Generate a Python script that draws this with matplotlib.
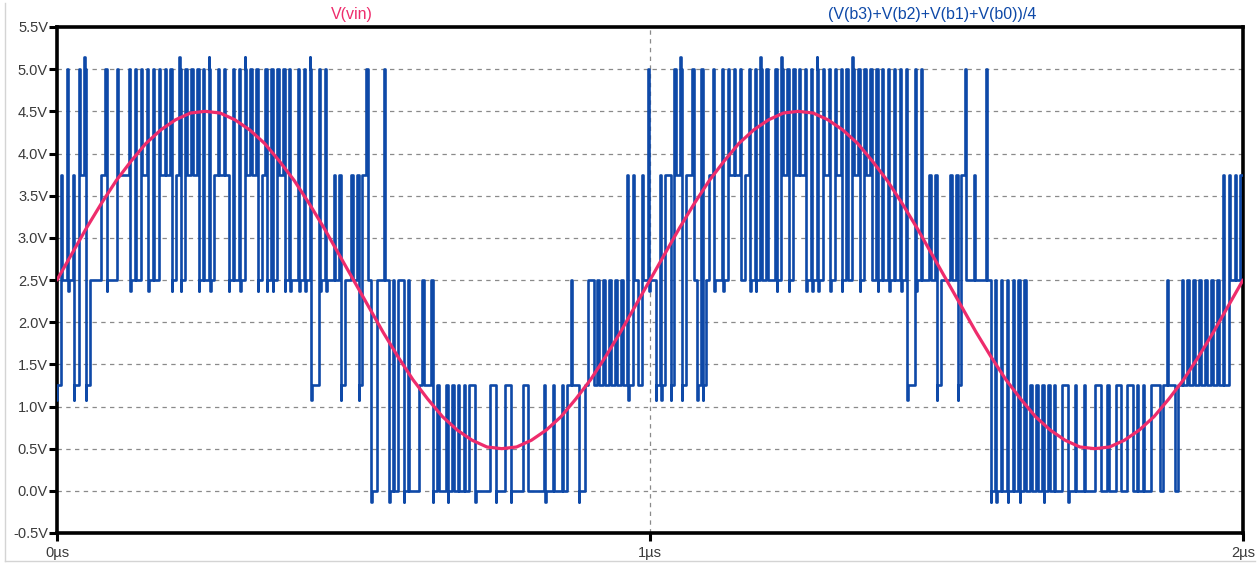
import matplotlib
matplotlib.use("Agg")
import matplotlib.pyplot as plt
from matplotlib.lines import Line2D
import numpy as np

# ---------------- data ----------------
# quantised output levels of (V(b3)+V(b2)+V(b1)+V(b0))/4
LEVELS = [0.0, 1.25, 2.5, 3.75, 5.0]
# letters = that level entered with a short over/undershoot spike
GLITCH = {"a": (0, -0.13), "b": (1, 1.08), "c": (2, 2.37), "e": (4, 5.15)}
STEP_NS = 5.0          # one character = one 5 ns step, 20 steps per 100 ns segment
code_segments = [
    "b324c3b43eb222234c22",  # 0.0 - 0.1 us
    "43334c42434c4243434c",  # 0.1 - 0.2
    "3ec43434c42ec34343c4",  # 0.2 - 0.3
    "24ce3434c34c4c434c4c",  # 0.3 - 0.4
    "24c4ceb14c4c2323b223",  # 0.4 - 0.5
    "23b342a02242a2022a20",  # 0.5 - 0.6
    "0012112a1001a1010101",  # 0.6 - 0.7
    "1a000011a0011a000110",  # 0.7 - 0.8
    "00001a0100101211a012",  # 0.8 - 0.9
    "2121212121213b321324",  # 0.9 - 1.0
    "c2b3b33b43eb3342b4b2",  # 1.0 - 1.1
    "34c24c43434234c4ce24",  # 1.1 - 1.2
    "224ce34c43434c4cec43",  # 1.2 - 1.3
    "4c434c42e34c43424c42",  # 1.3 - 1.4
    "4c424c4b14c422323b22",  # 1.4 - 1.5
    "2323b3422322242a2a20",  # 1.5 - 1.6
    "2a202a2010101a101001",  # 1.6 - 1.7
    "1a010010001100100110",  # 1.7 - 1.8
    "01101010011101211012",  # 1.8 - 1.9
    "12121212121213132323",  # 1.9 - 2.0
]

# V(vin) read every 25 ns
VIN_STEP_NS = 25.0
vin_values = [
    2.50, 2.81, 3.12, 3.41, 3.68, 3.91, 4.12, 4.28, 4.40, 4.48,
    4.50, 4.48, 4.40, 4.28, 4.12, 3.91, 3.68, 3.41, 3.12, 2.81,
    2.50, 2.19, 1.88, 1.59, 1.32, 1.09, 0.88, 0.72, 0.60, 0.52,
    0.50, 0.52, 0.60, 0.72, 0.88, 1.09, 1.32, 1.59, 1.88, 2.19,
    2.50, 2.81, 3.12, 3.41, 3.68, 3.91, 4.12, 4.28, 4.40, 4.48,
    4.50, 4.48, 4.40, 4.28, 4.12, 3.91, 3.68, 3.41, 3.12, 2.81,
    2.50, 2.19, 1.88, 1.59, 1.32, 1.09, 0.88, 0.72, 0.60, 0.52,
    0.50, 0.52, 0.60, 0.72, 0.88, 1.09, 1.32, 1.59, 1.88, 2.19,
    2.50,
]

y_ticks = [-0.5, 0.0, 0.5, 1.0, 1.5, 2.0, 2.5, 3.0, 3.5, 4.0, 4.5, 5.0, 5.5]
y_tick_labels = ["-0.5V", "0.0V", "0.5V", "1.0V", "1.5V", "2.0V", "2.5V",
                 "3.0V", "3.5V", "4.0V", "4.5V", "5.0V", "5.5V"]
x_ticks = [0.0, 1.0, 2.0]
x_tick_labels = ["0µs", "1µs", "2µs"]

vin_name = "V(vin)"
out_name = "(V(b3)+V(b2)+V(b1)+V(b0))/4"

# ---------------- style ----------------
BLUE = "#0e49a8"
PINK = "#ee2c6c"
TXT = "#3a3a3a"
GLITCH_NS = 0.8      # drawn width of an over/undershoot spike
PULSE_TRIM_NS = 1.3  # single-step pulses are drawn a little narrower (as in the scope trace)

# ---------------- build series ----------------
codes = "".join(code_segments)
lvl_idx = [GLITCH[c][0] if c in GLITCH else int(c) for c in codes]
n = len(codes)


def is_peak(k):
    if k <= 0 or k >= n - 1:
        return False
    return lvl_idx[k] > lvl_idx[k - 1] and lvl_idx[k] > lvl_idx[k + 1]


t_out, v_out = [], []
for k, c in enumerate(codes):
    t0 = k * STEP_NS
    if is_peak(k):
        t0 += PULSE_TRIM_NS
    if k > 0 and is_peak(k - 1):
        t0 -= PULSE_TRIM_NS
    if c in GLITCH:
        t_out += [t0, t0 + GLITCH_NS]
        v_out += [GLITCH[c][1], LEVELS[lvl_idx[k]]]
    else:
        t_out.append(t0)
        v_out.append(LEVELS[lvl_idx[k]])
t_out.append(n * STEP_NS)
v_out.append(v_out[-1])
t_out = np.array(t_out) / 1000.0
t_vin = np.arange(len(vin_values)) * VIN_STEP_NS / 1000.0

# ---------------- figure ----------------
W, H = 1258, 567
fig = plt.figure(figsize=(W / 100, H / 100), dpi=100)
fig.patch.set_facecolor("white")
L, R, T, B = 57, 1243, 27, 533
ax = fig.add_axes([L / W, 1 - B / H, (R - L) / W, (B - T) / H])

ax.set_xlim(0, 2)
ax.set_ylim(-0.5, 5.5)

# grid
for y in y_ticks[1:-1]:
    ax.axhline(y, color="#8a8a8a", lw=0.9, ls=(0, (3.5, 3.5)), zorder=1)
ax.axvline(1.0, color="#8a8a8a", lw=0.9, ls=(0, (3.5, 3.5)), zorder=1)

ax.plot(t_out, v_out, drawstyle="steps-post", color=BLUE, lw=1.9,
        solid_joinstyle="round", solid_capstyle="round", zorder=3)
ax.plot(t_vin, vin_values, color=PINK, lw=2.3, zorder=4,
        solid_capstyle="round")

for s in ax.spines.values():
    s.set_linewidth(2.6)
    s.set_color("black")

ax.set_yticks(y_ticks)
ax.set_yticklabels(y_tick_labels)
ax.set_xticks(x_ticks)
ax.set_xticklabels(x_tick_labels)
ax.tick_params(axis="both", direction="out", length=6, width=2.2, color="black",
               labelsize=10.5, labelcolor=TXT)
ax.tick_params(axis="y", pad=0.5)
ax.tick_params(axis="x", pad=3)
for lab in ax.get_xticklabels() + ax.get_yticklabels():
    lab.set_fontfamily("Liberation Sans")

fig.text(352 / W, 1 - 15 / H, vin_name, color=PINK, ha="center", va="center",
         fontsize=11.5, family="Liberation Sans")
fig.text(932 / W, 1 - 15 / H, out_name, color=BLUE, ha="center", va="center",
         fontsize=11.5, family="Liberation Sans")

# light outer frame of the screenshot
fig.add_artist(Line2D([5 / W, 5 / W], [1 - 3 / H, 1 - 561 / H], color="#d4d4d4",
                      lw=1.0, transform=fig.transFigure))
fig.add_artist(Line2D([5 / W, 1255 / W], [1 - 561 / H, 1 - 561 / H], color="#d4d4d4",
                      lw=1.0, transform=fig.transFigure))

fig.savefig("out.png", dpi=100, facecolor="white")
